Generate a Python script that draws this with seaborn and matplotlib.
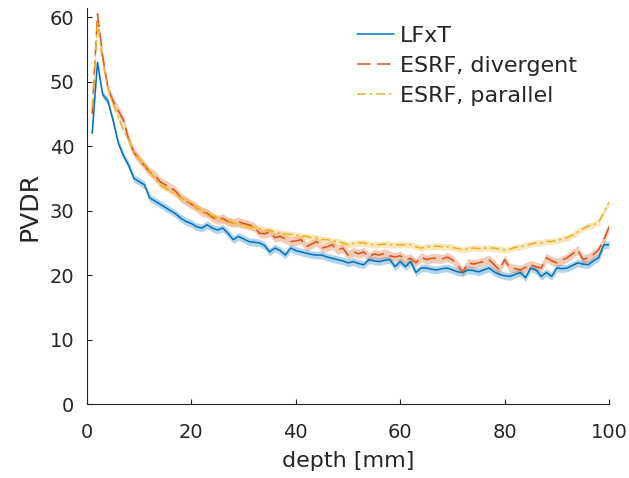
import numpy as np
import pandas as pd
import matplotlib
matplotlib.use("Agg")
import matplotlib.pyplot as plt
import seaborn as sns

depth = list(range(1, 101))

lfxt = [42, 53, 48, 47, 44, 40.5, 38.5, 37, 35, 34.5,
        34, 32, 31.5, 31, 30.5, 30, 29.5, 28.8, 28.3, 28,
        27.5, 27.3, 27.8, 27.3, 27, 27.3, 26.5, 25.5, 26, 25.6,
        25.2, 25.1, 25, 24.6, 23.6, 24.2, 23.8, 23.1, 24.2, 23.8,
        23.6, 23.4, 23.2, 23.1, 23.1, 22.8, 22.6, 22.4, 22.2, 21.9,
        22.1, 21.8, 21.6, 22.4, 22.2, 22.1, 22.3, 22.4, 21.3, 22.1,
        21.3, 22.1, 20.4, 21.1, 21.1, 20.9, 20.8, 21.0, 21.1, 20.8,
        20.5, 20.4, 20.8, 20.7, 20.5, 20.8, 21.1, 20.5, 20.1, 19.9,
        19.8, 20.1, 20.4, 19.6, 21.1, 20.8, 19.8, 20.4, 19.8, 21.1,
        21.0, 21.1, 21.5, 21.9, 21.7, 21.6, 22.2, 22.7, 24.7, 24.7]

esrf_div = [45, 60.5, 54, 49, 47, 45.5, 44, 41, 39, 38,
            37, 36, 35.5, 34.5, 34, 33.6, 33, 32, 31.5, 31,
            30.5, 29.8, 29.6, 29.0, 28.5, 28.8, 28.3, 28.1, 28.3, 28.0,
            27.8, 27.5, 26.5, 26.4, 26.7, 25.8, 26, 25.6, 25.2, 25.3,
            25.5, 24.4, 24.8, 25.2, 24.2, 24.4, 24.7, 23.9, 24.2, 23.1,
            23.6, 23.3, 23.6, 22.8, 23.3, 23.1, 23.4, 23.0, 22.8, 23.0,
            22.4, 22.6, 21.9, 22.8, 22.4, 22.6, 22.6, 22.5, 22.8, 22.4,
            21.5, 20.5, 21.9, 21.7, 21.9, 22.1, 22.4, 21.6, 20.8, 22.4,
            21.1, 21.0, 20.8, 21.2, 21.6, 21.3, 21.1, 22.7, 22.2, 21.9,
            22.3, 22.7, 23.3, 23.9, 22.4, 22.7, 23.2, 23.9, 25.5, 27.5]

esrf_par = [46, 59.5, 53, 49, 46.5, 44.5, 42.5, 41, 39, 38,
            37, 36, 35, 34, 33.5, 33, 32.5, 32, 31.5, 31,
            30.5, 30.1, 29.6, 29.2, 28.9, 28.6, 28.4, 28.1, 27.9, 27.7,
            27.5, 27.4, 27.2, 27.0, 26.9, 26.7, 26.5, 26.4, 26.3, 26.2,
            26.1, 26.0, 25.8, 25.8, 25.5, 25.5, 25.3, 25.2, 25.0, 24.7,
            24.9, 25.0, 25.0, 24.8, 24.7, 24.7, 24.8, 24.7, 24.7, 24.7,
            24.7, 24.7, 24.4, 24.2, 24.4, 24.4, 24.5, 24.4, 24.4, 24.3,
            24.1, 23.9, 24.1, 24.2, 24.1, 24.2, 24.2, 24.2, 24.0, 23.9,
            24.0, 24.3, 24.4, 24.6, 24.8, 25.0, 25.0, 25.2, 25.2, 25.4,
            25.6, 25.8, 26.2, 26.7, 27.2, 27.6, 27.8, 28.2, 29.8, 31.3]

band_halfwidth = {"LFxT": 0.6, "ESRF, divergent": 0.7, "ESRF, parallel": 0.5}
series_names = ["LFxT", "ESRF, divergent", "ESRF, parallel"]
xticks = [0, 20, 40, 60, 80, 100]
yticks = [0, 10, 20, 30, 40, 50, 60]

colors = {"LFxT": "#0072BD", "ESRF, divergent": "#D95319", "ESRF, parallel": "#EDB120"}
dashes = {"LFxT": "", "ESRF, divergent": (9, 4), "ESRF, parallel": (6, 2.5, 1.5, 2.5)}

df = pd.concat([
    pd.DataFrame({"depth": depth, "PVDR": vals, "series": name})
    for name, vals in zip(series_names, [lfxt, esrf_div, esrf_par])
], ignore_index=True)

sns.set_style("white")
plt.rcParams["font.family"] = ["DejaVu Sans"]

fig = plt.figure(figsize=(6.29, 4.78), dpi=100)
ax = fig.add_axes([0.1383, 0.1548, 0.830, 0.828])

for name in series_names:
    sub = df[df.series == name]
    hw = band_halfwidth[name]
    ax.fill_between(sub.depth, sub.PVDR - hw, sub.PVDR + hw,
                    color=colors[name], alpha=0.3, linewidth=0)

sns.lineplot(data=df, x="depth", y="PVDR", hue="series", style="series",
             palette=colors, dashes=dashes, hue_order=series_names,
             style_order=series_names, linewidth=1.1, ax=ax, errorbar=None)

ax.set_xlim(0, 100)
ax.set_ylim(0, 61.4)
ax.set_xticks(xticks)
ax.set_yticks(yticks)
ax.tick_params(bottom=True, left=True, direction="in", length=3.6, width=0.8,
               colors="#262626", labelsize=14, labelcolor="#262626")
ax.tick_params(axis="x", pad=13.5)
ax.tick_params(axis="y", pad=9)
for s in ["top", "right"]:
    ax.spines[s].set_visible(False)
for s in ["left", "bottom"]:
    ax.spines[s].set_color("#262626")
    ax.spines[s].set_linewidth(0.8)
ax.set_xlabel("depth [mm]", fontsize=16, color="#262626", labelpad=7)
ax.set_ylabel("PVDR", fontsize=18, color="#262626", labelpad=6)

leg = ax.legend(loc="upper left", bbox_to_anchor=(0.517, 0.955), frameon=False,
                fontsize=16, handlelength=1.65, handletextpad=0.27,
                labelspacing=0.45, borderaxespad=0, borderpad=0)
for h in leg.get_lines():
    h.set_linewidth(1.1)

fig.savefig("out.png", dpi=100)
